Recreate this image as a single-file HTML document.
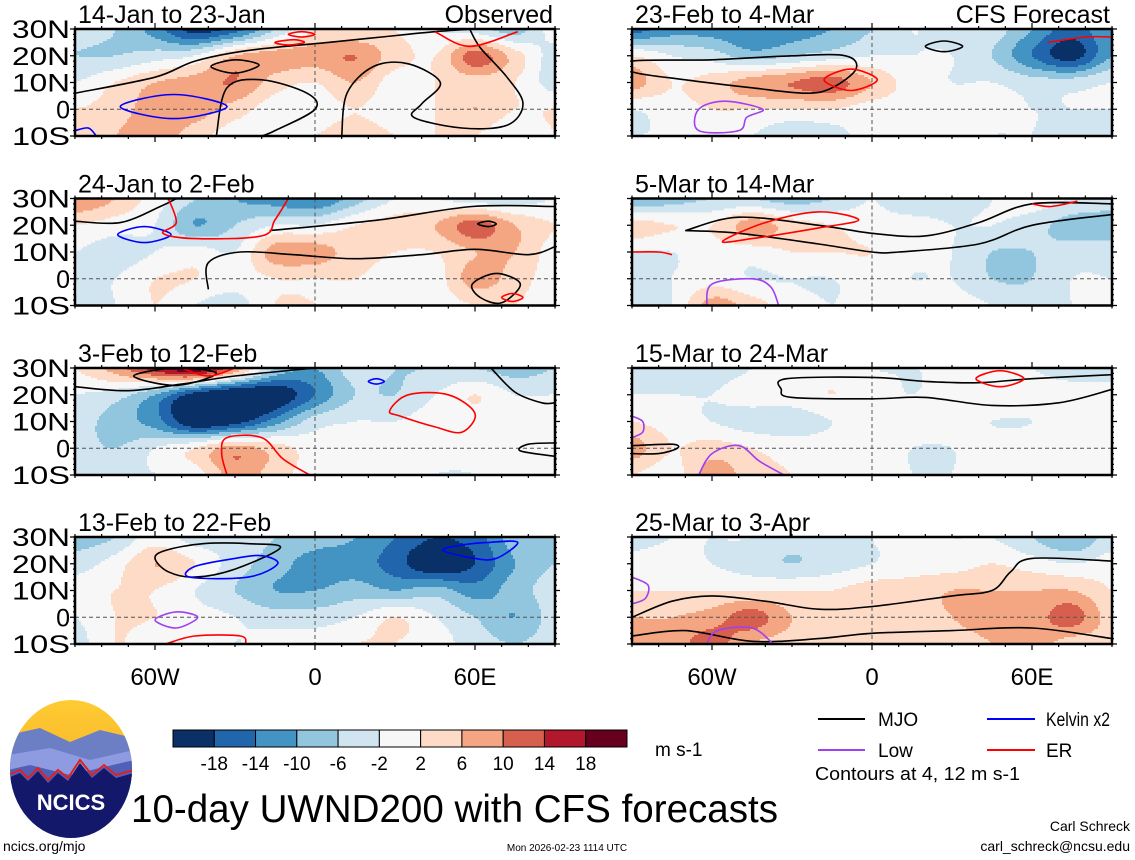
<!DOCTYPE html>
<html><head><meta charset="utf-8">
<style>
html,body{margin:0;padding:0;background:#fff;}
svg{display:block;font-family:"Liberation Sans",Arial,sans-serif;}
</style></head>
<body>
<svg id="c" width="1135" height="860" viewBox="0 0 1135 860" xmlns="http://www.w3.org/2000/svg">
<g id="panels"></g>

<g>
<defs>
<clipPath id="lc"><ellipse cx="71" cy="769" rx="61" ry="69"/></clipPath>
<linearGradient id="sky" x1="0" y1="0" x2="0" y2="1"><stop offset="0" stop-color="#ffcc33"/><stop offset="1" stop-color="#f0a020"/></linearGradient>
</defs>
<g clip-path="url(#lc)">
<rect x="8" y="698" width="126" height="142" fill="url(#sky)"/>
<polygon points="8,735 40,728 70,742 100,730 134,738 134,840 8,840" fill="#6c7fc4"/>
<polygon points="8,755 50,748 90,760 134,750 134,840 8,840" fill="#8e9be0"/>
<polygon points="8,770 30,765 70,775 134,760 134,840 8,840" fill="#5060b8"/>
<polyline points="8,775 20,770 28,778 38,768 48,780 58,770 68,778 80,760 92,775 104,765 116,775 134,770" fill="none" stroke="#e02020" stroke-width="2"/>
<polygon points="8,778 20,773 28,781 38,771 48,783 58,773 68,781 80,763 92,778 104,768 116,778 134,773 134,840 8,840" fill="#14186a"/>
</g>
<text x="71" y="810" text-anchor="middle" font-size="22" font-weight="bold" fill="#fff">NCICS</text>
</g>

<g id="cbar"></g>
<text x="655" y="756" font-size="19">m s-1</text>

<g>
<g><line x1="818" y1="719" x2="865" y2="719" stroke="#000" stroke-width="2"/><text x="878" y="726" font-size="19">MJO</text></g>
<g><line x1="987" y1="719" x2="1035" y2="719" stroke="#0000ff" stroke-width="2"/><text x="1046" y="726" font-size="19" textLength="64" lengthAdjust="spacingAndGlyphs">Kelvin x2</text></g>
<g><line x1="818" y1="750" x2="865" y2="750" stroke="#a040f0" stroke-width="2"/><text x="878" y="757" font-size="19">Low</text></g>
<g><line x1="987" y1="750" x2="1035" y2="750" stroke="#ff0000" stroke-width="2"/><text x="1046" y="757" font-size="19">ER</text></g>
</g>
<text x="815" y="780" font-size="18" textLength="205" lengthAdjust="spacingAndGlyphs">Contours at 4, 12 m s-1</text>
<text x="131" y="822" font-size="39" textLength="647" lengthAdjust="spacingAndGlyphs">10-day UWND200 with CFS forecasts</text>
<text x="3" y="851" font-size="14">ncics.org/mjo</text>
<text x="567" y="851" font-size="10" text-anchor="middle">Mon 2026-02-23 1114 UTC</text>
<text x="1130" y="831" font-size="14" text-anchor="end">Carl Schreck</text>
<text x="1130" y="851" font-size="14" text-anchor="end">carl_schreck@ncsu.edu</text>
</svg>

<script>
// ---- data ----
const lonNodes = [-90,-75,-60,-45,-30,-15,0,15,30,45,60,75,90];
const latNodes = [30,20,10,0,-10];
const panelTitles = ["14-Jan to 23-Jan","24-Jan to 2-Feb","3-Feb to 12-Feb","13-Feb to 22-Feb","23-Feb to 4-Mar","5-Mar to 14-Mar","15-Mar to 24-Mar","25-Mar to 3-Apr"];
const levelBounds = [-18,-14,-10,-6,-2,2,6,10,14,18];
const levelColors = ["#0a3068","#2166ac","#4393c3","#92c5de","#d1e5f0","#f7f7f7","#fddbc7","#f4a582","#d6604d","#b2182b","#67001f"];
const colorbarLabels = ["-18","-14","-10","-6","-2","2","6","10","14","18"];
const lonTickLabels = ["60W","0","60E"];
const lonTickValues = [-60,0,60];
const latTickLabels = ["30N","20N","10N","0","10S"];
const latTickValues = [30,20,10,0,-10];

const uwnd1 = [
[-4,-6,-12,-20,-16,-6,2,2,2,-2,-4,-8,0],
[-6,-6,-4,-2,6,8,8,10,4,2,12,4,-4],
[-2,2,6,8,10,4,2,6,0,2,4,2,-4],
[2,4,8,8,4,0,0,2,0,2,6,2,2],
[4,6,8,4,0,2,2,4,2,2,2,-2,2]];
const uwnd2 = [
[10,6,0,-6,-10,-12,-14,-8,-2,-2,-4,-4,-2],
[2,0,-2,-10,-6,-2,-2,2,4,6,12,6,2],
[-2,-4,-2,0,-2,8,8,4,2,2,6,6,0],
[-2,-2,2,2,0,2,2,2,0,0,8,4,0],
[-2,-2,2,-2,-4,2,2,0,0,0,2,2,0]];
const uwnd3 = [
[2,8,16,22,10,-6,-10,-4,-6,-6,-6,-8,-6],
[-2,-4,-10,-20,-24,-22,-14,-6,-6,-2,2,-2,-2],
[-4,-8,-12,-22,-20,-12,-4,-2,-2,0,0,0,0],
[-4,-6,-2,2,8,4,0,0,0,0,0,0,0],
[-4,-2,-2,0,8,4,0,0,0,-2,-2,0,0]];
const uwnd4 = [
[-8,-6,0,-4,-4,-6,-8,-10,-14,-18,-16,-8,-8],
[-4,0,6,2,-4,-8,-12,-12,-16,-22,-18,-10,-6],
[0,2,2,-2,-6,-10,-10,-8,-10,-8,-12,-8,-4],
[-2,2,2,0,-2,-4,-4,-2,2,-2,-6,-10,-4],
[-4,2,0,2,-2,0,0,2,2,0,-4,-6,-4]];
const uwnd5 = [
[-16,-12,-12,-14,-12,-10,-6,-2,-4,-4,-10,-16,-10],
[2,-2,-4,-8,-6,-4,-2,-2,-2,-6,-14,-20,-10],
[8,2,4,8,10,12,6,0,-2,-2,-4,-4,-2],
[-2,0,2,2,2,2,0,0,0,0,-2,-2,-2],
[-2,-2,-2,-2,-6,-4,0,0,0,-2,-2,-4,-2]];
const uwnd6 = [
[-10,-8,-6,-6,-8,-6,-2,-6,-4,-2,0,-2,-4],
[4,2,2,8,4,2,0,0,-2,-2,-4,-8,-8],
[-2,-2,0,0,2,2,2,0,-2,-6,-6,-4,-4],
[-4,-2,0,-2,-2,-2,0,-2,-2,-6,-6,-2,-2],
[-4,-2,8,4,0,-2,0,2,0,-2,-4,-2,-2]];
const uwnd7 = [
[-4,-6,-4,-2,0,0,-2,-2,-2,-2,-2,-4,-4],
[-2,-2,-2,0,0,2,0,-2,0,2,0,0,0],
[2,0,-2,-4,-4,-2,0,0,0,-2,-2,0,0],
[8,2,4,2,0,0,0,-2,-2,0,0,0,0],
[2,0,8,4,2,0,0,-2,-2,0,0,0,0]];
const uwnd8 = [
[-4,-2,-2,-2,-4,-4,-2,0,-2,-2,-6,-10,-4],
[0,0,-2,-4,-6,-4,-2,0,0,2,0,-2,0],
[2,2,2,2,2,2,4,4,6,6,6,6,2],
[6,6,8,12,6,4,4,4,6,8,8,12,4],
[6,8,12,6,4,2,4,4,4,6,8,4,4]];
const panelFields = [uwnd1,uwnd2,uwnd3,uwnd4,uwnd5,uwnd6,uwnd7,uwnd8];

const mjoContours = [
[0,false,[[-90,6],[-60,12],[-45,18],[-25,22],[5,25],[25,27],[45,29],[60,30]]],
[0,false,[[-37,-10],[-33,8],[-20,11],[-3,6],[0,0],[-15,-8],[-20,-10]]],
[0,false,[[10,-10],[12,6],[22,16],[35,17],[47,10],[40,2],[37,-3],[55,-7],[72,-6],[78,2],[72,12],[62,23],[58,30]]],
[0,true,[[-39,16],[-30,18.5],[-21,16.5],[-30,13.5]]],
[1,false,[[-90,21.5],[-73,21],[-58,27],[-52,30]]],
[1,false,[[-17,18],[24,22],[59,27],[90,27]]],
[1,false,[[-40,-4],[-40,6],[-28,10],[-8,9],[15,7.5],[40,9],[60,11],[80,9],[90,12]]],
[1,true,[[59,-2],[68,2],[77,-2],[70,-9],[62,-7]]],
[1,true,[[61,20.5],[65,21.5],[68,20.5],[65,19.5]]],
[2,false,[[-90,23],[-70,21.5],[-50,24],[-30,27],[0,30]]],
[2,true,[[-68,27],[-52,30],[-37,28],[-52,23.5]]],
[2,false,[[66,30],[75,21],[85,17],[90,17]]],
[2,false,[[90,2],[80,1.5],[77,-1],[90,-3]]],
[3,true,[[-60,22],[-55,17],[-45,15],[-30,18],[-13,26],[-25,27.5],[-42,27.5],[-56,25]]],
[4,true,[[-90,18],[-60,18.5],[-30,20],[-10,20],[-6,15],[-15,8],[-25,6],[-45,8],[-70,11],[-90,14]]],
[4,true,[[20,23.5],[27,25.5],[34,23.5],[27,21.5]]],
[5,false,[[-70,18],[-50,23],[-20,20],[0,17],[20,16],[40,21],[60,28],[90,28]]],
[5,false,[[-70,18],[-50,17],[-20,13],[0,10],[10,10],[40,13],[60,20],[90,24]]],
[6,false,[[90,27.5],[60,26],[40,24.5],[20,25],[0,26.5],[-32,26],[-34,22],[-30,19],[0,18.5],[20,19],[45,16],[70,17],[90,22]]],
[6,false,[[-90,1],[-75,1.5],[-73,0],[-80,-2],[-90,-2]]],
[7,false,[[-90,0],[-75,6],[-60,8],[-40,6],[-20,3],[0,4],[30,8],[45,10],[52,17],[60,22],[90,21]]],
[7,false,[[-90,-7],[-70,-5],[-45,-9],[-20,-8],[0,-6],[30,-5],[60,-4],[90,-8]]]];
const kelvinContours = [
[0,true,[[-73,1],[-53,5.5],[-33,1],[-53,-3.5]]],
[0,false,[[-90,-8],[-85,-7],[-82,-10]]],
[1,true,[[-74,16.5],[-64,19.5],[-54,16.5],[-64,13.5]]],
[2,true,[[20,25],[23,26],[26,25],[23,24]]],
[3,true,[[-47,15],[-25,15],[-14,20],[-20,23],[-30,22],[-45,19]]],
[3,true,[[48,25],[60,22],[68,22],[76,28],[65,28],[55,27]]]];
const lowContours = [
[3,true,[[-60,-1],[-52,2],[-44,0],[-52,-4]]],
[4,true,[[-65,-8],[-65,0],[-55,3],[-41,0],[-47,-3],[-50,-8]]],
[5,false,[[-62,-10],[-60,-2],[-45,0],[-38,-3],[-35,-10]]],
[6,false,[[-65,-10],[-60,-2],[-50,1],[-42,-5],[-33,-10]]],
[6,false,[[-90,12],[-86,10],[-86,6],[-90,4]]],
[7,false,[[-62,-10],[-58,-5],[-45,-4],[-37,-10]]],
[7,false,[[-90,5],[-85,7],[-84,12],[-90,15]]]];
const erContours = [
[0,false,[[45,29],[58,23.5],[76,29]]],
[0,true,[[-10,28],[-5,29],[0,28],[-5,27]]],
[0,true,[[-15,25],[-8,26],[-4,25],[-10,24]]],
[1,false,[[-55,30],[-52,21],[-57,17],[-45,15],[-20,16],[-15,22],[-10,30]]],
[1,true,[[70,-7],[74,-5.5],[78,-7],[74,-8.5]]],
[2,false,[[-33,-10],[-35,-2],[-33,4],[-20,4],[-12,-4],[-2,-10]]],
[2,true,[[28,14],[35,20],[50,20],[60,13],[55,6],[45,8],[32,12]]],
[2,false,[[-50,30],[-40,27],[-30,30]]],
[3,false,[[-56,-10],[-45,-7],[-28,-7],[-26,-10]]],
[4,true,[[-18,11],[-8,15],[2,11],[-8,7]]],
[4,false,[[66,25],[80,27],[90,27]]],
[5,true,[[-56,14],[-40,21],[-20,25],[-5,22],[-20,19],[-45,15]]],
[5,false,[[60,28],[67,27],[77,29]]],
[5,false,[[-90,10],[-80,10],[-75,9]]],
[6,true,[[39,26],[48,29],[57,26],[48,23]]]];

// ---- layout ----
const NS = "http://www.w3.org/2000/svg";
const PW = 480, PH = 107;
const colX = [75, 632];
const rowY = [29, 198.5, 368, 537];
function panelOrigin(i){ return {x: colX[i<4?0:1], y: rowY[i%4]}; }
function xScale(o, lon){ return o.x + (lon + 90) / 180 * PW; }
function yScale(o, lat){ return o.y + (30 - lat) / 40 * PH; }
function colorFor(v){
  let k = 0; while (k < levelBounds.length && v >= levelBounds[k]) k++;
  return levelColors[k];
}
function cr(p0,p1,p2,p3,t){
  return 0.5*((2*p1)+(-p0+p2)*t+(2*p0-5*p1+4*p2-p3)*t*t+(-p0+3*p1-3*p2+p3)*t*t*t);
}
function sample(f, lon, lat){
  const nI = lonNodes.length, nJ = latNodes.length;
  let fi = (lon - lonNodes[0]) / 15, fj = (30 - lat) / 10;
  fi = Math.max(0, Math.min(nI - 1.0001, fi));
  fj = Math.max(0, Math.min(nJ - 1.0001, fj));
  const i = Math.floor(fi), j = Math.floor(fj);
  const a = fi - i, b = fj - j;
  const g = (jj, ii) => f[Math.max(0,Math.min(nJ-1,jj))][Math.max(0,Math.min(nI-1,ii))];
  const rows = [];
  for (let m=-1;m<=2;m++) rows.push(cr(g(j+m,i-1),g(j+m,i),g(j+m,i+1),g(j+m,i+2),a));
  return cr(rows[0],rows[1],rows[2],rows[3],b);
}
function mk(tag, attrs, parent){
  const e = document.createElementNS(NS, tag);
  for (const k in attrs) e.setAttribute(k, attrs[k]);
  if (parent) parent.appendChild(e);
  return e;
}
function smoothPath(o, pts, closed){
  const P = pts.map(p => [xScale(o,p[0]), yScale(o,p[1])]);
  const n = P.length;
  const get = k => closed ? P[(k+n)%n] : P[Math.max(0,Math.min(n-1,k))];
  let d = "M" + P[0][0].toFixed(1) + "," + P[0][1].toFixed(1);
  const segs = closed ? n : n-1;
  for (let k=0;k<segs;k++){
    const p0=get(k-1),p1=get(k),p2=get(k+1),p3=get(k+2);
    const c1=[p1[0]+(p2[0]-p0[0])/6,p1[1]+(p2[1]-p0[1])/6];
    const c2=[p2[0]-(p3[0]-p1[0])/6,p2[1]-(p3[1]-p1[1])/6];
    d += "C"+c1[0].toFixed(1)+","+c1[1].toFixed(1)+" "+c2[0].toFixed(1)+","+c2[1].toFixed(1)+" "+p2[0].toFixed(1)+","+p2[1].toFixed(1);
  }
  if (closed) d += "Z";
  return d;
}

const root = document.getElementById("panels");
const defs = mk("defs", {}, root);
for (let p=0;p<8;p++){
  const o = panelOrigin(p);
  const cp = mk("clipPath", {id:"clip"+p}, defs);
  mk("rect", {x:o.x, y:o.y, width:PW, height:PH}, cp);

  const g = mk("g", {}, root);
  
  

  const hm = mk("g", {"clip-path":"url(#clip"+p+")", "shape-rendering":"crispEdges"}, g);
  
  
  const f = panelFields[p];
  const step = 2;
  for (let yy=0; yy<PH; yy+=step){
    const lat = 30 - (yy+step/2)/PH*40;
    let runStart = 0, runCol = null;
    for (let xx=0; xx<=PW; xx+=step){
      let col = null;
      if (xx < PW){ const lon = -90 + (xx+step/2)/PW*180; col = colorFor(sample(f, lon, lat)); }
      if (col !== runCol){
        if (runCol !== null){
          const r = mk("rect", {x:o.x+runStart, y:o.y+yy, width:xx-runStart, height:step+0.5, fill:runCol}, hm);
          
          
        }
        runStart = xx; runCol = col;
      }
    }
  }
  const eq = mk("line", {x1:o.x, x2:o.x+PW, y1:yScale(o,0), y2:yScale(o,0), stroke:"#555", "stroke-width":1, "stroke-dasharray":"4,3"}, g);
  
  
  const pm = mk("line", {x1:xScale(o,0), x2:xScale(o,0), y1:o.y, y2:o.y+PH, stroke:"#555", "stroke-width":1, "stroke-dasharray":"4,3"}, g);
  
  

  const cg = mk("g", {"clip-path":"url(#clip"+p+")", fill:"none", "stroke-width":1.6}, g);
  
  
  const sets = [[mjoContours,"#000","mjo-contour"],[kelvinContours,"#0000ff","kelvin-contour"],[lowContours,"#a040f0","low-contour"],[erContours,"#ff0000","er-contour"]];
  for (const s of sets){
    for (const c of s[0]){
      if (c[0] !== p) continue;
      const path = mk("path", {d: smoothPath(o, c[2], c[1]), stroke: s[1]}, cg);
      
      
    }
  }

  const fr = mk("rect", {x:o.x, y:o.y, width:PW, height:PH, fill:"none", stroke:"#000", "stroke-width":2.5}, g);
  
  
  let td = "";
  for (let lon=-90; lon<=90; lon+=10){
    const x = xScale(o,lon), L = (lon % 60 === 0) ? 6 : 3;
    td += "M"+x+","+o.y+"v"+(-L)+"M"+x+","+(o.y+PH)+"v"+L;
  }
  for (let lat=-10; lat<=30; lat+=2){
    const y = yScale(o,lat), L = (lat % 10 === 0) ? 5 : 2;
    td += "M"+o.x+","+y+"h"+(-L)+"M"+(o.x+PW)+","+y+"h"+L;
  }
  const tk = mk("path", {d:td, stroke:"#000", "stroke-width":1.2, fill:"none"}, g);
  
  

  const t = mk("text", {x:o.x+3, y:o.y-6, "font-size":25}, g);
  t.textContent = panelTitles[p];
  
  
  if (p === 0 || p === 4){
    const st = mk("text", {x:o.x+PW-2, y:o.y-6, "font-size":25, "text-anchor":"end"}, g);
    st.textContent = p === 0 ? "Observed" : "CFS Forecast";
    
    
  }
  if (p < 4){
    for (let k=0;k<latTickValues.length;k++){
      const lab = latTickLabels[k];
      const lt = mk("text", {x:o.x-5, y:yScale(o,latTickValues[k])+9, "font-size":25, "text-anchor":"end"}, g);
      if (lab.length === 3){ lt.setAttribute("textLength", 58); lt.setAttribute("lengthAdjust","spacingAndGlyphs"); }
      lt.textContent = lab;
      
      
    }
  }
  if (p % 4 === 3){
    for (let k=0;k<lonTickValues.length;k++){
      const lt = mk("text", {x:xScale(o,lonTickValues[k]), y:o.y+PH+41, "font-size":24, "text-anchor":"middle"}, g);
      lt.textContent = lonTickLabels[k];
      
      
    }
  }
}

const cb = document.getElementById("cbar");
const cbX = 173, cbW = 454, cbY = 730, cbH = 17;
const segW = cbW / levelColors.length;
for (let k=0;k<levelColors.length;k++){
  const r = mk("rect", {x:cbX+k*segW, y:cbY, width:segW, height:cbH, fill:levelColors[k], stroke:"#000", "stroke-width":1}, cb);
  
  
}
for (let k=0;k<colorbarLabels.length;k++){
  const t = mk("text", {x:cbX+(k+1)*segW, y:cbY+cbH+23, "font-size":19, "text-anchor":"middle"}, cb);
  t.textContent = colorbarLabels[k];
  
  
}
</script>
</body></html>
